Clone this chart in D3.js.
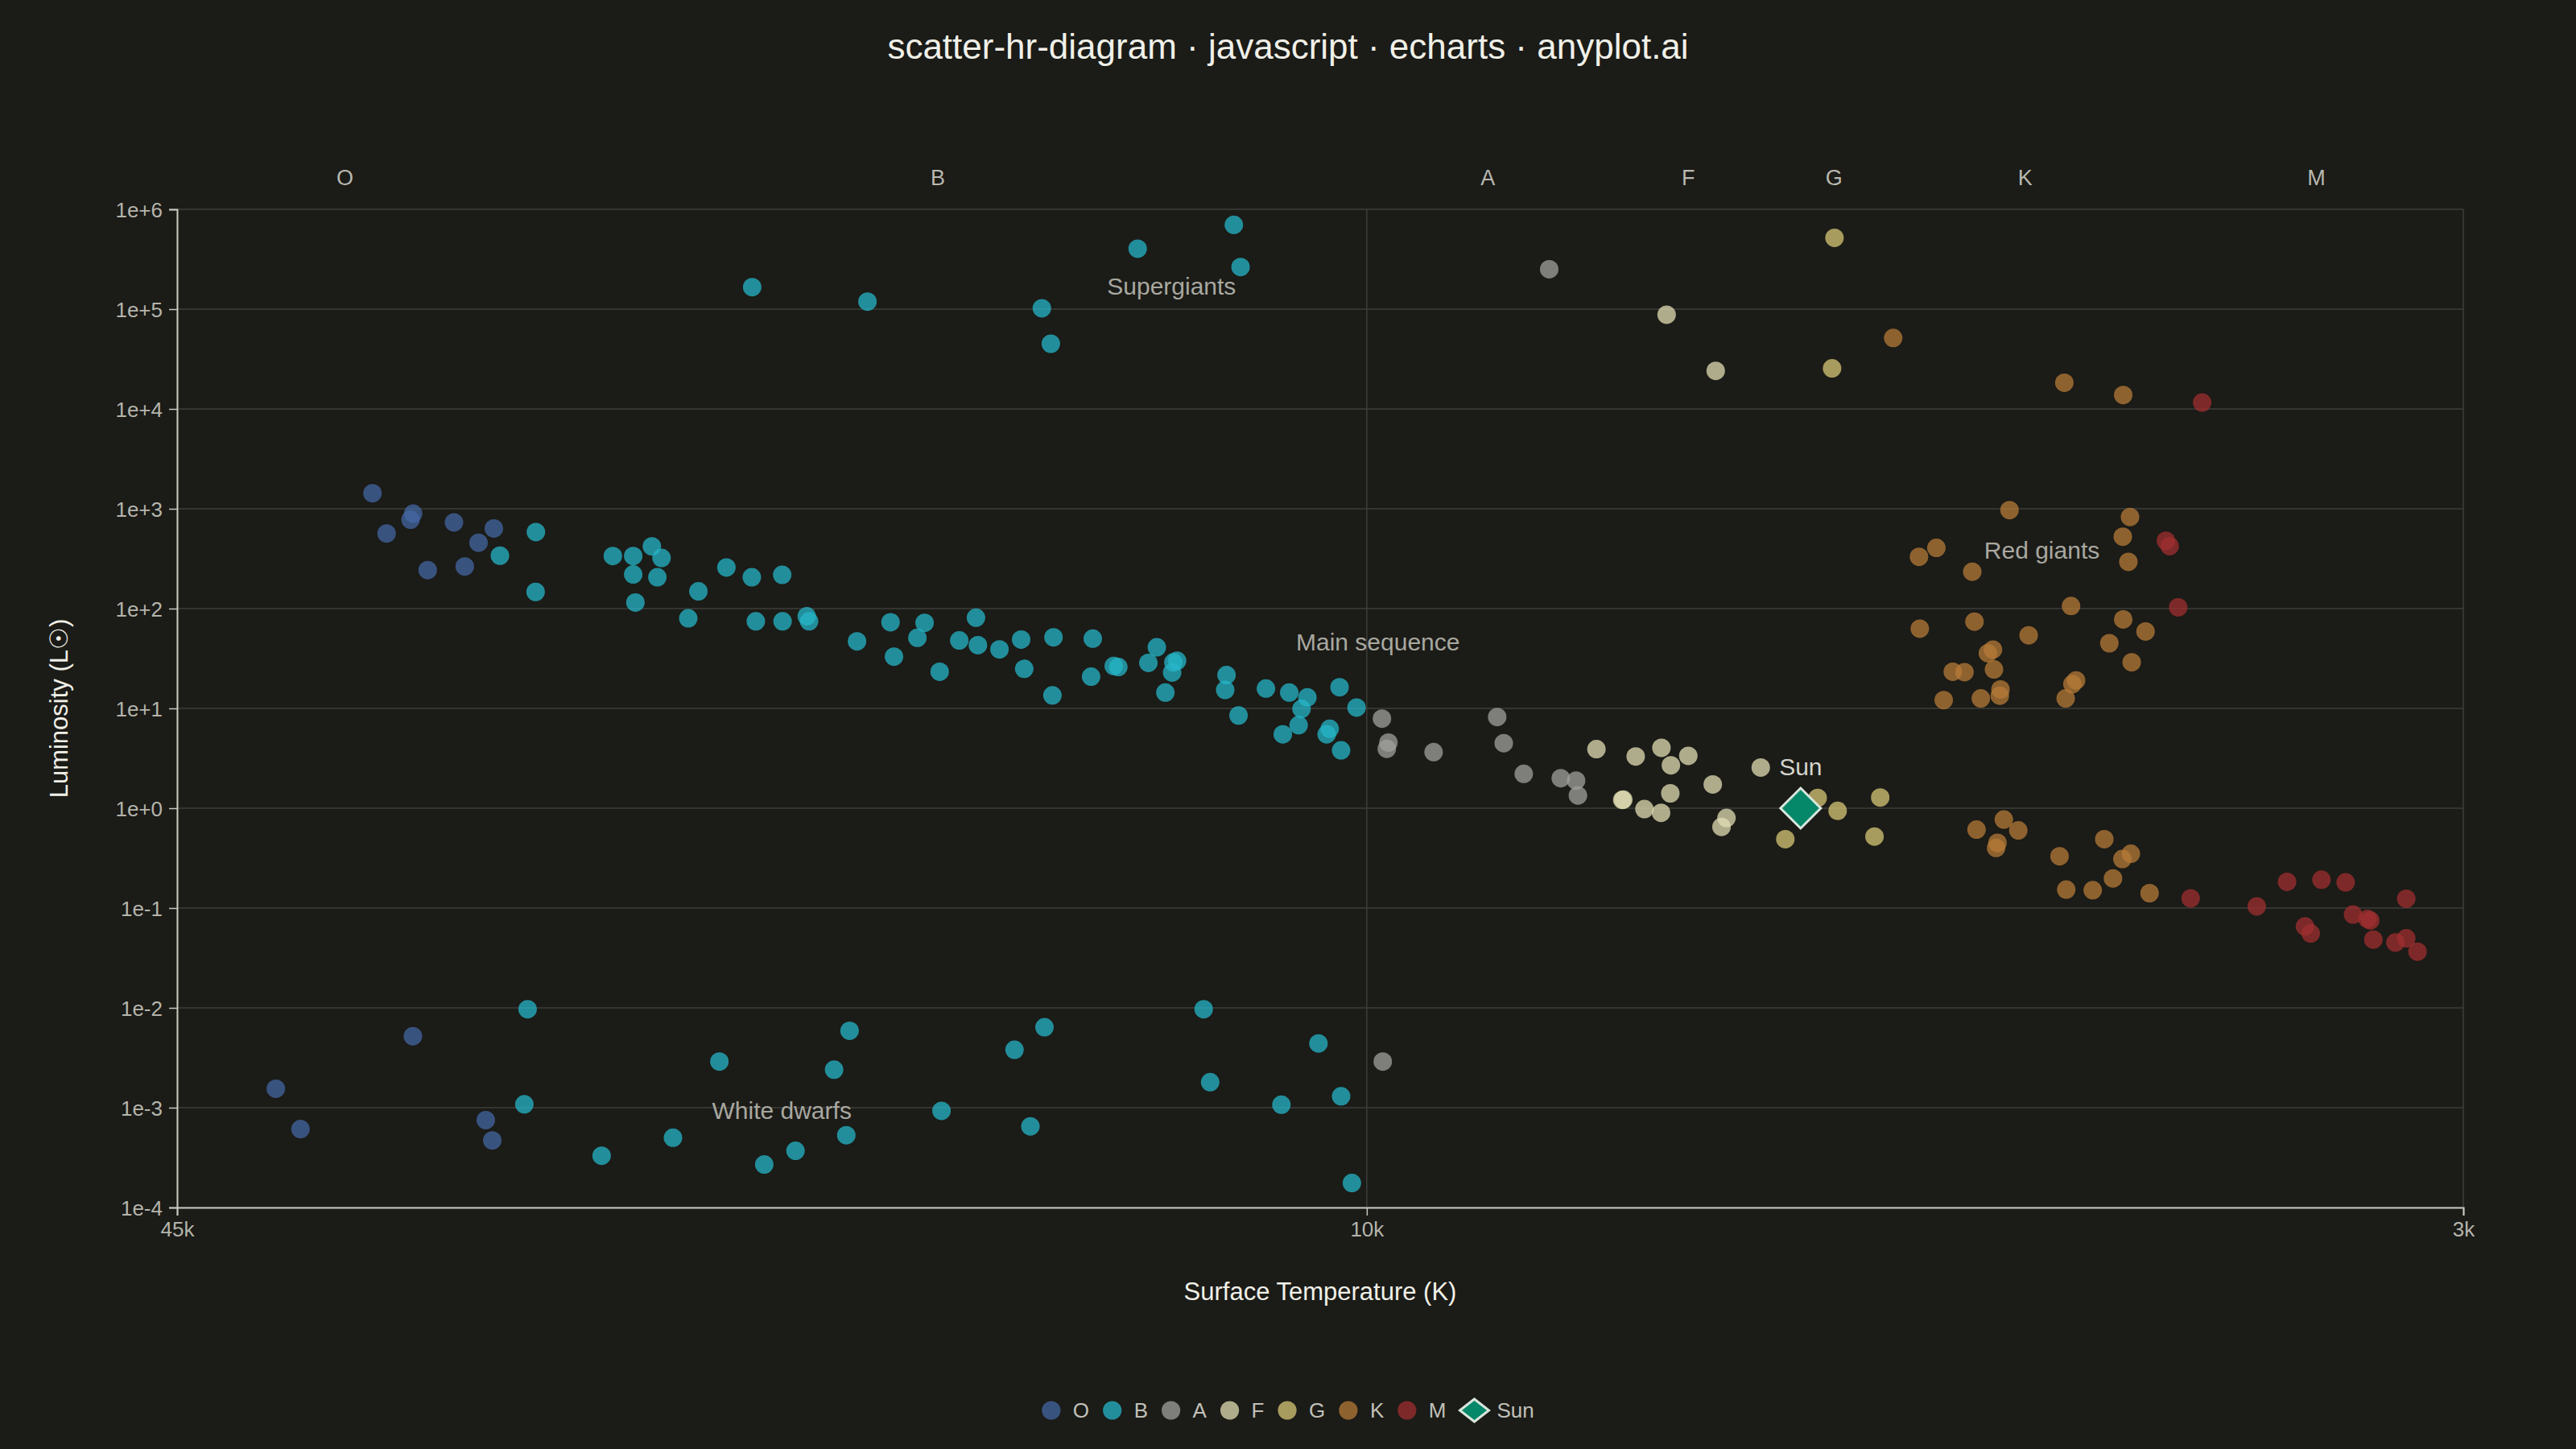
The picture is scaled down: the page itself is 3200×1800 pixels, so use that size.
<!DOCTYPE html>
<html><head><meta charset="utf-8">
<script src="https://cdn.jsdelivr.net/npm/d3@7/dist/d3.min.js"></script>
<style>html,body{margin:0;padding:0;background:#1b1b17;} svg{display:block;}</style>
</head><body>
<script>
// ---- data (temperature K, luminosity Lsun) ----
const classNames = ["O","B","A","F","G","K","M"];
const classColors = ["#4467a3","#25b5c8","#a0a09c","#e2deb4","#d7c776","#b67b38","#a02f30"];

const oStars = [[35150,1430],[34530,566],[33500,778],[33390,893],[32780,243],[31710,730],[31280,264],[30740,457],[30150,635],
  [39720,0.00155],[38500,0.00061],[33400,0.0052],[30460,0.00075],[30210,0.00047]];
const bStars = [[29920,339],[28590,584],[28600,147],[25940,336],[25280,336],[24690,420],[24390,322],[25280,220],[24520,206],[25210,115],
  [23280,149],[23580,80],[22470,258],[21760,206],[20940,218],[21650,74.5],[20930,74.5],[20300,84],[20240,74.5],[19050,47],
  [18260,73],[17490,72],[16390,81],[17650,51],[18180,33],[16740,48],[16350,43],[15910,39],[15480,49],[14860,51.5],
  [14140,50],[17160,23.3],[15420,24.9],[14880,13.5],[14170,20.8],[13770,26.6],[13690,26],[13180,28.6],[13040,41],[12790,22.9],
  [12710,30],[12770,28.9],[12900,14.4],[11940,21.6],[11960,15.3],[11760,8.5],[11360,15.8],[11030,14.4],[10780,12.9],[10860,9.9],
  [10900,6.8],[11120,5.5],[10480,6.25],[10520,5.5],[10350,16.3],[10130,10.2],[10330,3.8],
  [21750,166000],[18800,119000],[15080,102000],[14910,45000],[13360,403000],[11830,698000],[11730,264000],
  [28890,0.0097],[29010,0.00108],[26310,0.00033],[22670,0.0029],[24040,0.0005],[21420,0.00027],[20590,0.00037],[19610,0.0024],
  [19230,0.0059],[19310,0.00053],[17120,0.00093],[15610,0.0038],[15030,0.0064],[15300,0.00065],[12290,0.0097],[12190,0.0018],
  [11140,0.00107],[10630,0.0044],[10330,0.0013],[10190,0.000176]];
const aStars = [[7940,251000],[9810,7.9],[9730,4.55],[9750,3.94],[9190,3.65],[8480,8.2],[8410,4.48],[8200,2.21],[7825,2.0],[7675,1.89],[7657,1.34],
  [9800,0.0029]];
const fStars = [[6845,87900],[6433,24100],[7480,3.91],[7118,3.3],[6890,4.03],[6660,3.35],[6808,2.69],[6457,1.73],[7240,1.21],[7230,1.22],
  [7040,0.98],[6893,0.90],[6813,1.41],[6346,0.80],[6386,0.65],[6077,2.56]];
const gStars = [[5536,518000],[5553,25500],[5655,1.27],[5514,0.94],[5225,1.28],[5891,0.49],[5263,0.52]];
const kStars = [[5140,51400],[4140,18300],[3843,13800],
  [4437,970],[3810,828],[3845,525],[4867,406],[4975,330],[3818,294],[4651,234],[4105,106],[3843,78],[4970,63],[4638,74],[3736,59],
  [4331,54],[3911,45],[4531,38.8],[4560,35.7],[3802,29],[4767,23.3],[4697,23.1],[4525,24.6],[4079,19.1],[4098,17.5],[4488,15.5],
  [4492,13.4],[4822,12.1],[4601,12.6],[4133,12.6],
  [4626,0.61],[4469,0.77],[4388,0.60],[4505,0.45],[4513,0.40],[4165,0.33],[3936,0.49],[3806,0.35],[3847,0.31],[3893,0.198],
  [4130,0.153],[3994,0.151],[3717,0.141]];
const mStars = [[3478,11600],[3641,478],[3624,422],[3585,103],
  [3529,0.125],[3246,0.104],[3124,0.183],[2991,0.192],[2901,0.181],[2687,0.124],[2874,0.086],[2812,0.075],[2822,0.078],
  [3054,0.0655],[3032,0.0556],[2801,0.0483],[2724,0.0452],[2687,0.0498],[2649,0.0366]];
const sunStar = [5778, 1];

const xTickValues = [45000, 10000, 2500];
const xTickLabels = ["45k", "10k", "3k"];
const yTickValues = [1e6,1e5,1e4,1e3,1e2,1e1,1,1e-1,1e-2,1e-3,1e-4];
const yTickLabels = ["1e+6","1e+5","1e+4","1e+3","1e+2","1e+1","1e+0","1e-1","1e-2","1e-3","1e-4"];
const spectralLabelTemps = [36400, 17200, 8580, 6660, 5540, 4350, 3010];
const regionNames = ["Supergiants","Main sequence","Red giants","White dwarfs"];
const regionPositions = [[12800,170000],[9860,46],[4259,387],[20950,0.00093]];

const titleText = "scatter-hr-diagram · javascript · echarts · anyplot.ai";

// ---- layout ----
const W = 3200, H = 1800;
const M = {left:220, right:3060, top:260, bottom:1500};
const FONT = "'Liberation Sans', Arial, sans-serif";

const svg = d3.select("body").append("svg").attr("width", W).attr("height", H);
svg.append("rect").attr("width", W).attr("height", H).attr("fill", "#1b1b17");

const x = d3.scaleLog().domain([45000, 2500]).range([M.left, M.right]);
const y = d3.scaleLog().domain([1e-4, 1e6]).range([M.bottom, M.top]);

// title
svg.append("text").attr("x", 1600).attr("y", 73).attr("text-anchor","middle")
  .attr("font-family", FONT).attr("font-size", 44).attr("fill", "#f0f0e8").text(titleText);

// gridlines
const grid = svg.append("g");
grid.selectAll("line.h").data(yTickValues).enter().append("line")
  .attr("x1", M.left).attr("x2", M.right).attr("y1", d => y(d)).attr("y2", d => y(d))
  .attr("stroke", "#3e3e3a").attr("stroke-width", 1.5);
grid.selectAll("line.v").data(xTickValues).enter().append("line")
  .attr("x1", d => x(d)).attr("x2", d => x(d)).attr("y1", M.top).attr("y2", M.bottom)
  .attr("stroke", "#3e3e3a").attr("stroke-width", 1.5);

// axes
const yAxis = d3.axisLeft(y).tickValues(yTickValues).tickFormat((d,i) => yTickLabels[i]).tickSize(10).tickPadding(8);
const gy = svg.append("g").attr("transform", `translate(${M.left},0)`).call(yAxis);
const xAxis = d3.axisBottom(x).tickValues(xTickValues).tickFormat((d,i) => xTickLabels[i]).tickSize(10).tickPadding(8);
const gx = svg.append("g").attr("transform", `translate(0,${M.bottom})`).call(xAxis);
[gx, gy].forEach(g => {
  g.select(".domain").attr("stroke", "#c8c8c0").attr("stroke-width", 2);
  g.selectAll(".tick line").attr("stroke", "#c8c8c0").attr("stroke-width", 1.5);
  g.selectAll(".tick text").attr("fill", "#b4b4ac").attr("font-family", FONT).attr("font-size", 26);
});
gy.selectAll(".tick text").attr("dy", "0.35em");

// spectral class labels on top
svg.append("g").selectAll("text").data(classNames).enter().append("text")
  .attr("x", (d,i) => x(spectralLabelTemps[i])).attr("y", 221).attr("dy", "0.35em")
  .attr("text-anchor", "middle").attr("font-family", FONT).attr("font-size", 27)
  .attr("fill", "#b8b8b0").text(d => d);

// axis names
svg.append("text").attr("x", (M.left+M.right)/2).attr("y", 1615).attr("text-anchor","middle")
  .attr("font-family", FONT).attr("font-size", 31).attr("fill", "#f0f0e8").text("Surface Temperature (K)");
svg.append("text").attr("transform", `translate(84,${(M.top+M.bottom)/2}) rotate(-90)`).attr("text-anchor","middle")
  .attr("font-family", FONT).attr("font-size", 31).attr("fill", "#f0f0e8").text("Luminosity (L\u2609)");

// region annotations
svg.append("g").selectAll("text").data(regionNames).enter().append("text")
  .attr("x", (d,i) => x(regionPositions[i][0])).attr("y", (d,i) => y(regionPositions[i][1])).attr("dy", "0.35em")
  .attr("text-anchor", "middle").attr("font-family", FONT).attr("font-size", 30)
  .attr("fill", "#a8a8a0").text(d => d);

// points
const allClasses = [oStars, bStars, aStars, fStars, gStars, kStars, mStars];
const pts = svg.append("g");
allClasses.forEach((arr, ci) => {
  pts.selectAll(null).data(arr).enter().append("circle")
    .attr("cx", d => x(d[0])).attr("cy", d => y(d[1])).attr("r", 11.5)
    .attr("fill", classColors[ci]).attr("fill-opacity", 0.75);
});

// sun
const sx = x(sunStar[0]), sy = y(sunStar[1]);
const dm = 25;
svg.append("path").attr("d", `M${sx},${sy-dm}L${sx+dm},${sy}L${sx},${sy+dm}L${sx-dm},${sy}Z`)
  .attr("fill", "#05876a").attr("stroke", "#d8e6dc").attr("stroke-width", 3);
svg.append("text").attr("x", sx).attr("y", sy - 41).attr("text-anchor","middle")
  .attr("font-family", FONT).attr("font-size", 30).attr("fill", "#d4d4cc").text("Sun");

// legend
const legendNames = classNames.concat(["Sun"]);
const lg = svg.append("g");
let cx = 0;
legendNames.forEach((name, i) => {
  const g = lg.append("g");
  if (i < classNames.length) {
    g.append("circle").attr("cx", cx + 11.6).attr("cy", 0).attr("r", 11.6)
      .attr("fill", classColors[i]).attr("fill-opacity", 0.75);
  } else {
    const c = cx + 18;
    g.append("path").attr("d", `M${c},-14L${c+18},0L${c},14L${c-18},0Z`)
      .attr("fill", "#05876a").attr("stroke", "#d8e6dc").attr("stroke-width", 3);
  }
  const lx = i < classNames.length ? cx + 38.6 : cx + 46;
  const t = g.append("text").attr("x", lx).attr("y", 0).attr("dy", "0.35em")
    .attr("font-family", FONT).attr("font-size", 26).attr("fill", "#c0c0b8").text(name);
  cx = lx + t.node().getComputedTextLength() + 17;
});
const legendWidth = cx - 17;
lg.attr("transform", `translate(${1600 - legendWidth/2},1752)`);
</script>
</body></html>
